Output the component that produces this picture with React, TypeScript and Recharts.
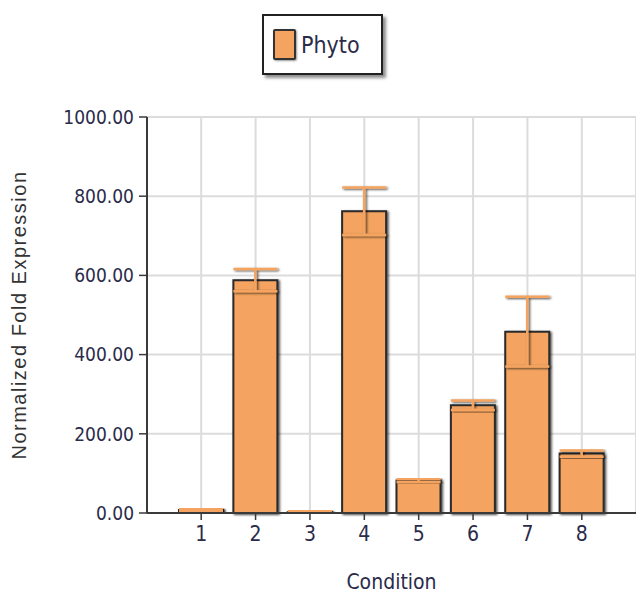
import React from 'react';
import { BarChart, Bar, XAxis, YAxis, CartesianGrid, ErrorBar, Legend, Label } from 'recharts';

const conditions = ['1', '2', '3', '4', '5', '6', '7', '8'];
const phyto = [8, 588, 3, 762, 82, 272, 458, 150];
const phytoErr = [3, 28, 2, 60, 4, 12, 88, 8];
const yTicks = [0, 200, 400, 600, 800, 1000];

const data = conditions.map((c, i) => ({ condition: c, Phyto: phyto[i], err: phytoErr[i] }));

const FONT = '"DejaVu Sans Condensed", "DejaVu Sans", sans-serif';
const ORANGE = '#F4A460';

const LegendBox = () => (
  <div
    style={{
      width: 121,
      height: 61,
      border: '2px solid #222',
      boxShadow: '3px 3px 3px rgba(0,0,0,0.45)',
      background: '#fff',
      display: 'flex',
      alignItems: 'center',
      boxSizing: 'border-box',
      paddingLeft: 9,
    }}
  >
    <div
      style={{
        width: 23,
        height: 31,
        background: ORANGE,
        border: '2px solid #333',
        boxSizing: 'border-box',
        borderRadius: 2,
        boxShadow: '1px 1px 2px rgba(0,0,0,0.4)',
      }}
    />
    <span style={{ fontFamily: FONT, fontSize: 23, color: '#2b2b4a', marginLeft: 5 }}>Phyto</span>
  </div>
);

export default function App() {
  return (
    <div style={{ position: 'absolute', left: 0, top: 0, width: 636, height: 595, background: '#fff' }}>
      <BarChart
        width={636}
        height={595}
        data={data}
        margin={{ top: 117, right: 0, bottom: 0, left: 0 }}
        barSize={44}
      >
        <defs>
          <filter id="shade" x="-20%" y="-20%" width="150%" height="150%">
            <feDropShadow dx="1.5" dy="1" stdDeviation="0.8" floodColor="#000" floodOpacity="0.7" />
          </filter>
        </defs>
        <CartesianGrid stroke="#dcdcdc" strokeWidth={2} />
        <XAxis
          dataKey="condition"
          height={82}
          padding={{ left: 27, right: 27 }}
          axisLine={{ stroke: '#3a3a3a', strokeWidth: 2 }}
          tickLine={{ stroke: '#3a3a3a', strokeWidth: 1.5 }}
          tickSize={7}
          tickMargin={6}
          tick={{ fill: '#2b2b4a', fontSize: 21, fontFamily: FONT }}
        >
          <Label
            value="Condition"
            position="insideBottom"
            offset={6}
            style={{ fill: '#2b2b4a', fontSize: 21, fontFamily: FONT }}
          />
        </XAxis>
        <YAxis
          width={147}
          domain={[0, 1000]}
          ticks={yTicks}
          interval={0}
          tickFormatter={(v: number) => v.toFixed(2)}
          axisLine={{ stroke: '#3a3a3a', strokeWidth: 2 }}
          tickLine={{ stroke: '#3a3a3a', strokeWidth: 1.5 }}
          tickSize={8}
          tickMargin={5}
          tick={{ fill: '#2b2b4a', fontSize: 19, fontFamily: FONT }}
        >
          <Label
            value="Normalized Fold Expression"
            angle={-90}
            position="insideLeft"
            offset={19}
            style={{ fill: '#333', fontSize: 20, fontFamily: '"Liberation Sans", Arial, sans-serif', letterSpacing: 1.5, textAnchor: 'middle' }}
          />
        </YAxis>
        <Legend
          layout="horizontal"
          verticalAlign="middle"
          align="center"
          wrapperStyle={{ position: 'absolute', top: 14, left: 262, width: 124, height: 64 }}
          content={() => <LegendBox />}
        />
        <Bar
          dataKey="Phyto"
          fill={ORANGE}
          stroke="#2a2a2a"
          strokeWidth={2}
          filter="url(#shade)"
          isAnimationActive={false}
        >
          <ErrorBar
            dataKey="err"
            width={22}
            stroke={ORANGE}
            strokeWidth={2.5}
            filter="url(#shade)"
            isAnimationActive={false}
          />
        </Bar>
      </BarChart>
    </div>
  );
}
